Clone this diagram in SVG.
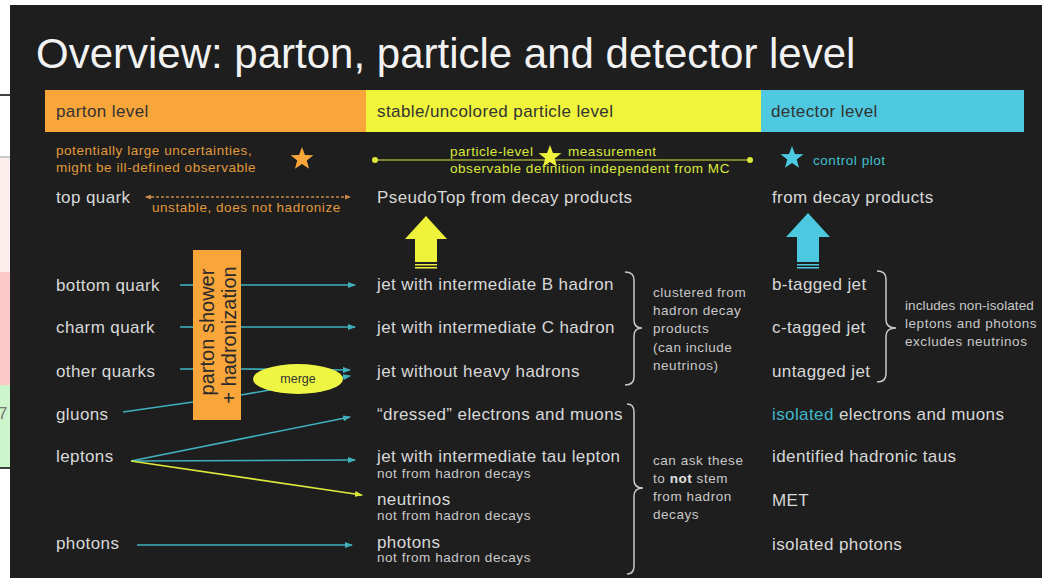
<svg xmlns="http://www.w3.org/2000/svg" width="1042" height="578" viewBox="0 0 1042 578">
<style>
text{font-family:"Liberation Sans",Arial,sans-serif}
.t{font-size:17px;fill:#d8d8d8;letter-spacing:0.4px}
.h{font-size:17px;fill:#333333;letter-spacing:0.4px}
.s{font-size:13.5px;letter-spacing:0.55px}
.g{fill:#c8c8c8}
.o{fill:#e09a3c}
.y{fill:#dce83c}
.c{fill:#40c0d0}
.ln{stroke:#3fb0bc;stroke-width:1.6;fill:none}
.br{stroke:#c8c8c8;stroke-width:1.5;fill:none}
</style>
<defs>
<marker id="ah" viewBox="0 0 8 6" refX="7" refY="3" markerWidth="8" markerHeight="6" markerUnits="userSpaceOnUse" orient="auto"><path d="M0,0 L8,3 L0,6 z" fill="#3fb0bc"/></marker>
<marker id="ahy" viewBox="0 0 8 6" refX="7" refY="3" markerWidth="8" markerHeight="6" markerUnits="userSpaceOnUse" orient="auto"><path d="M0,0 L8,3 L0,6 z" fill="#dce83c"/></marker>
<marker id="aho" viewBox="0 0 6 5" refX="5" refY="2.5" markerWidth="6" markerHeight="5" markerUnits="userSpaceOnUse" orient="auto-start-reverse"><path d="M0,0 L6,2.5 L0,5 z" fill="#c8884a"/></marker>
<polygon id="star" points="0,-12 2.94,-4.05 11.41,-3.71 4.76,1.55 7.05,9.71 0,5 -7.05,9.71 -4.76,1.55 -11.41,-3.71 -2.94,-4.05"/>
</defs>

<rect x="0" y="0" width="1042" height="578" fill="#ffffff"/>
<g id="left-strip">
<rect x="0" y="157" width="12" height="115" fill="#fdeeee"/>
<rect x="0" y="272" width="12" height="113" fill="#ffc8c8"/>
<rect x="0" y="385" width="12" height="83" fill="#ccf5cc"/>
<line x1="0" y1="95" x2="12" y2="95" stroke="#000" stroke-width="1.5"/>
<line x1="0" y1="157" x2="12" y2="157" stroke="#999" stroke-width="1"/>
<line x1="0" y1="468" x2="12" y2="468" stroke="#000" stroke-width="1.5"/>
<text x="-2" y="419" style="font-size:17px;fill:#777">7</text>
</g>
<rect x="10" y="5" width="1032" height="573" fill="#1e1e1e"/>

<text id="title" x="36" y="68" style="font-size:42px;fill:#f2f2f2">Overview: parton, particle and detector level</text>

<g id="header">
<rect x="45" y="90" width="321" height="42" fill="#f8a53a"/>
<rect x="366" y="90" width="395" height="42" fill="#f0f53c"/>
<rect x="761" y="90" width="263" height="42" fill="#4fc9e0"/>
<text class="h" x="56" y="117">parton level</text>
<text class="h" x="377" y="117">stable/uncolored particle level</text>
<text class="h" x="771" y="117">detector level</text>
</g>

<g id="notes">
<text class="s o" x="56" y="155">potentially large uncertainties,</text>
<text class="s o" x="56" y="172">might be ill-defined observable</text>
<use href="#star" x="302" y="159" fill="#f8a53a"/>
<line x1="375" y1="160" x2="750" y2="160" stroke="#dce83c" stroke-width="1.2"/>
<circle cx="375" cy="160" r="3" fill="#dce83c"/>
<circle cx="750" cy="160" r="3" fill="#dce83c"/>
<text class="s y" x="450" y="156">particle-level</text>
<text class="s y" x="568" y="156">measurement</text>
<use href="#star" x="550" y="157" fill="#eef23a"/>
<text class="s y" x="450" y="173">observable definition independent from MC</text>
<use href="#star" x="792" y="158" fill="#4cc8e0"/>
<text class="s c" x="813" y="165">control plot</text>
</g>

<g id="top-row">
<text class="t" x="56" y="203">top quark</text>
<line x1="146" y1="197" x2="350" y2="197" stroke="#c8884a" stroke-width="1.5" stroke-dasharray="3,2" marker-start="url(#aho)" marker-end="url(#aho)"/>
<text class="s o" x="152" y="212">unstable, does not hadronize</text>
<text class="t" x="377" y="203">PseudoTop from decay products</text>
<text class="t" x="772" y="203">from decay products</text>
</g>

<g id="block-arrows">
<polygon points="426,216 447,239 437,239 437,262 415,262 415,239 405,239" fill="#eef23a"/>
<rect x="415" y="264" width="22" height="1.5" fill="#eef23a"/>
<rect x="415" y="267" width="22" height="1.5" fill="#eef23a"/>
<polygon points="808,213 830,237 819,237 819,262 797,262 797,237 786,237" fill="#4cc8e0"/>
<rect x="797" y="264" width="22" height="1.5" fill="#4cc8e0"/>
<rect x="797" y="267" width="22" height="1.5" fill="#4cc8e0"/>
</g>

<g id="connectors">
<line class="ln" x1="180" y1="285" x2="193" y2="285"/>
<line class="ln" x1="241" y1="285" x2="355" y2="285" marker-end="url(#ah)"/>
<line class="ln" x1="180" y1="327" x2="193" y2="327"/>
<line class="ln" x1="241" y1="327" x2="355" y2="327" marker-end="url(#ah)"/>
<line class="ln" x1="180" y1="369" x2="193" y2="369"/>
<line class="ln" x1="241" y1="369" x2="350" y2="370" marker-end="url(#ah)"/>
<line class="ln" x1="123" y1="412" x2="193" y2="402"/>
<line class="ln" x1="241" y1="395" x2="350" y2="376" marker-end="url(#ah)"/>
<line class="ln" x1="131" y1="461" x2="350" y2="417" marker-end="url(#ah)"/>
<line class="ln" x1="131" y1="461" x2="355" y2="460" marker-end="url(#ah)"/>
<line x1="131" y1="461" x2="362" y2="495" stroke="#dce83c" stroke-width="1.6" marker-end="url(#ahy)"/>
<line class="ln" x1="137" y1="545" x2="352" y2="545" marker-end="url(#ah)"/>
</g>

<g id="shower-box">
<rect x="193" y="250" width="48" height="170" fill="#f8a53a"/>
<text transform="translate(214,332) rotate(-90)" text-anchor="middle" style="font-size:20px;fill:#2a2a2a">parton shower</text>
<text transform="translate(236,335) rotate(-90)" text-anchor="middle" style="font-size:20px;fill:#2a2a2a">+ hadronization</text>
</g>

<g id="merge">
<ellipse cx="298" cy="379" rx="45" ry="15" fill="#eef542"/>
<text x="298" y="383" text-anchor="middle" style="font-size:12.5px;fill:#333">merge</text>
</g>

<g id="parton-col">
<text class="t" x="56" y="291">bottom quark</text>
<text class="t" x="56" y="333">charm quark</text>
<text class="t" x="56" y="377">other quarks</text>
<text class="t" x="56" y="420">gluons</text>
<text class="t" x="56" y="462">leptons</text>
<text class="t" x="56" y="549">photons</text>
</g>

<g id="particle-col">
<text class="t" x="377" y="290">jet with intermediate B hadron</text>
<text class="t" x="377" y="333">jet with intermediate C hadron</text>
<text class="t" x="377" y="377">jet without heavy hadrons</text>
<text class="t" x="377" y="420">“dressed” electrons and muons</text>
<text class="t" x="377" y="462">jet with intermediate tau lepton</text>
<text class="s g" x="377" y="478">not from hadron decays</text>
<text class="t" x="377" y="505">neutrinos</text>
<text class="s g" x="377" y="520">not from hadron decays</text>
<text class="t" x="377" y="548">photons</text>
<text class="s g" x="377" y="562">not from hadron decays</text>
</g>

<g id="brackets">
<path class="br" d="M625,272 Q634,272 634,280 L634,320 Q634,328 642,328 Q634,328 634,336 L634,377 Q634,385 625,385"/>
<path class="br" d="M627,404 Q634,404 634,412 L634,480 Q634,488 643,488 Q634,488 634,496 L634,566 Q634,574 627,574"/>
<path class="br" d="M877,271 Q886,271 886,279 L886,320 Q886,328 896,328 Q886,328 886,336 L886,374 Q886,382 877,382"/>
</g>

<g id="particle-notes">
<text class="s g" x="653" y="297">clustered from</text>
<text class="s g" x="653" y="315">hadron decay</text>
<text class="s g" x="653" y="333">products</text>
<text class="s g" x="653" y="352">(can include</text>
<text class="s g" x="653" y="370">neutrinos)</text>
<text class="s g" x="653" y="465">can ask these</text>
<text class="s g" x="653" y="483">to <tspan font-weight="bold" fill="#e0e0e0">not</tspan> stem</text>
<text class="s g" x="653" y="501">from hadron</text>
<text class="s g" x="653" y="519">decays</text>
</g>

<g id="detector-col">
<text class="t" x="772" y="290">b-tagged jet</text>
<text class="t" x="772" y="333">c-tagged jet</text>
<text class="t" x="772" y="377">untagged jet</text>
<text class="t" x="772" y="420"><tspan fill="#40b8c8">isolated</tspan> electrons and muons</text>
<text class="t" x="772" y="462">identified hadronic taus</text>
<text class="t" x="772" y="506">MET</text>
<text class="t" x="772" y="550">isolated photons</text>
<text class="s g" x="905" y="310" style="letter-spacing:0.1px">includes non-isolated</text>
<text class="s g" x="905" y="328">leptons and photons</text>
<text class="s g" x="905" y="346">excludes neutrinos</text>
</g>
</svg>
